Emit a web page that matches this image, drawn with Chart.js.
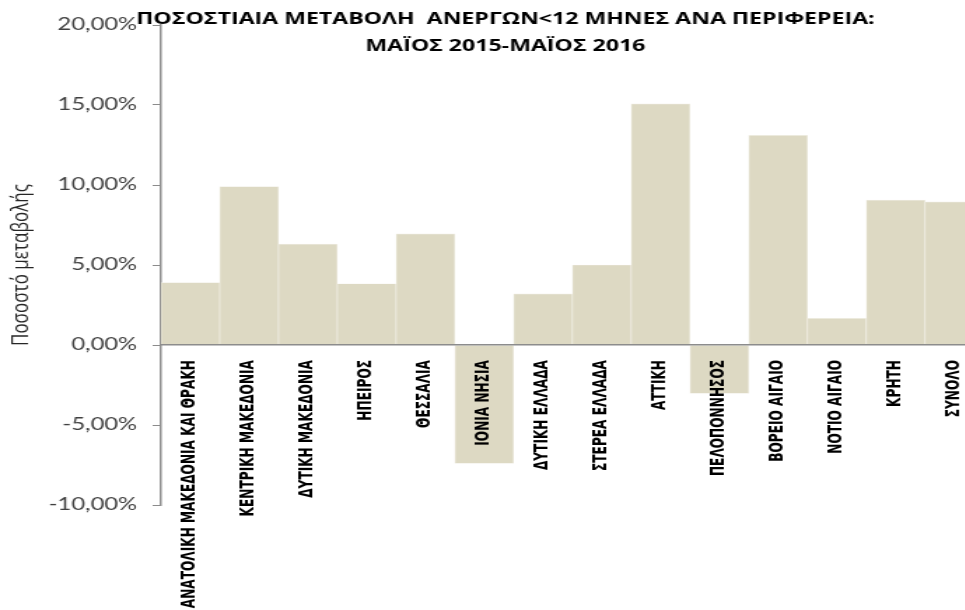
<!DOCTYPE html>
<html>
<head>
<meta charset="utf-8">
<script src="https://cdn.jsdelivr.net/npm/chart.js@4/dist/chart.umd.min.js"></script>
<style>
  html, body { margin: 0; padding: 0; background: #fff; overflow: hidden; width: 965px; height: 610px; }
  #wrap { transform: scaleX(1.4); transform-origin: 0 0; width: 713px; height: 610px; }
</style>
</head>
<body>
<div id="wrap"><canvas id="chart" width="713" height="610"></canvas></div>
<script>
const regions = [
  "ΑΝΑΤΟΛΙΚΗ ΜΑΚΕΔΟΝΙΑ ΚΑΙ ΘΡΑΚΗ", "ΚΕΝΤΡΙΚΗ ΜΑΚΕΔΟΝΙΑ", "ΔΥΤΙΚΗ ΜΑΚΕΔΟΝΙΑ",
  "ΗΠΕΙΡΟΣ", "ΘΕΣΣΑΛΙΑ", "ΙΟΝΙΑ ΝΗΣΙΑ", "ΔΥΤΙΚΗ ΕΛΛΑΔΑ", "ΣΤΕΡΕΑ ΕΛΛΑΔΑ",
  "ΑΤΤΙΚΗ", "ΠΕΛΟΠΟΝΝΗΣΟΣ", "ΒΟΡΕΙΟ ΑΙΓΑΙΟ", "ΝΟΤΙΟ ΑΙΓΑΙΟ", "ΚΡΗΤΗ", "ΣΥΝΟΛΟ"
];
const changePct = [3.9, 9.9, 6.3, 3.83, 6.95, -7.4, 3.2, 5.0, 15.07, -3.02, 13.1, 1.67, 9.06, 8.95];
const yTicks = [-10, -5, 0, 5, 10, 15, 20];
const titleLines = ["ΠΟΣΟΣΤΙΑΙΑ ΜΕΤΑΒΟΛΗ  ΑΝΕΡΓΩΝ<12 ΜΗΝΕΣ ΑΝΑ ΠΕΡΙΦΕΡΕΙΑ:", "ΜΑΪΟΣ 2015-ΜΑΪΟΣ 2016"];
const yTitle = "Ποσοστό μεταβολής";

// τίτλος πάνω από την περιοχή του γραφήματος (όπως στο Excel)
const overlayTitle = {
  id: "overlayTitle",
  afterDraw(chart) {
    const ctx = chart.ctx;
    ctx.save();
    ctx.fillStyle = "#000";
    ctx.font = "bold 16.5px 'Open Sans', sans-serif";
    ctx.textAlign = "center";
    ctx.textBaseline = "middle";
    ctx.fillText(titleLines[0], 361, 19);
    ctx.fillText(titleLines[1], 361, 46);
    ctx.restore();
  }
};

new Chart(document.getElementById("chart"), {
  type: "bar",
  data: {
    labels: regions,
    datasets: [{
      data: changePct,
      backgroundColor: "#DDD9C3",
      borderColor: "#F1EFE6",
      borderWidth: 0.7,
      barPercentage: 1,
      categoryPercentage: 1
    }]
  },
  options: {
    responsive: false,
    animation: false,
    layout: { padding: { top: 25, bottom: 105, left: 0, right: 2 } },
    plugins: { legend: { display: false }, tooltip: { enabled: false } },
    scales: {
      x: {
        position: { y: 0 },
        grid: { display: false, drawTicks: false },
        border: { display: true, color: "#8C8C8C", width: 1.5, z: 1 },
        ticks: {
          z: 1,
          autoSkip: false,
          minRotation: 90,
          maxRotation: 90,
          padding: 15,
          color: "#000",
          font: { family: "'Liberation Sans Narrow', 'DejaVu Sans Condensed', sans-serif", size: 13.5, weight: "bold" }
        }
      },
      y: {
        min: -10,
        max: 20,
        afterBuildTicks: (scale) => { scale.ticks = yTicks.map((v) => ({ value: v })); },
        afterFit: (scale) => { scale.width = 115; },
        grid: { drawOnChartArea: false, tickLength: 6, color: "#8C8C8C" },
        border: { color: "#8C8C8C", width: 1.5 },
        ticks: {
          padding: 11,
          color: "#404040",
          font: { family: "Lato, 'Open Sans', sans-serif", size: 17 },
          callback: (v) => v.toFixed(2).replace(".", ",") + "%"
        },
        title: {
          display: true,
          text: yTitle,
          color: "#262626",
          padding: { top: 5, bottom: 0 },
          font: { family: "'Open Sans', sans-serif", size: 17 }
        }
      }
    }
  },
  plugins: [overlayTitle]
});
</script>
</body>
</html>
